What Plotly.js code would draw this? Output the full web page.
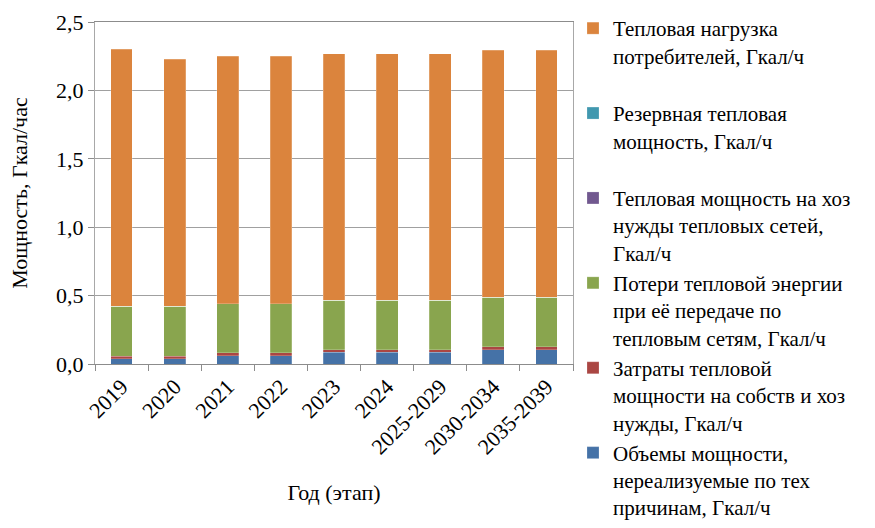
<!DOCTYPE html>
<html>
<head>
<meta charset="utf-8">
<script src="https://cdn.plot.ly/plotly-3.0.1.min.js"></script>
<style>
  html, body { margin: 0; padding: 0; background: #fff; }
  #chart { width: 875px; height: 528px; }
</style>
</head>
<body>
<div id="chart"></div>
<script>
// categories (year / stage)
var years = ['2019', '2020', '2021', '2022', '2023', '2024', '2025-2029', '2030-2034', '2035-2039'];

// series values, Гкал/ч
var unrealized = [0.040, 0.040, 0.060, 0.060, 0.085, 0.085, 0.085, 0.105, 0.105];
var ownNeeds   = [0.018, 0.018, 0.021, 0.021, 0.021, 0.021, 0.021, 0.022, 0.022];
var netNeeds   = [0, 0, 0, 0, 0, 0, 0, 0, 0];
var losses     = [0.365, 0.365, 0.361, 0.361, 0.360, 0.360, 0.360, 0.361, 0.361];
var reserve    = [0, 0, 0, 0, 0, 0, 0, 0, 0];
var load       = [1.877, 1.805, 1.807, 1.807, 1.803, 1.803, 1.803, 1.805, 1.805];

var names = [
  'Объемы мощности,<br>нереализуемые по тех<br>причинам, Гкал/ч',
  'Затраты тепловой<br>мощности на собств и хоз<br>нужды, Гкал/ч',
  'Потери тепловой энергии<br>при её передаче по<br>тепловым сетям, Гкал/ч',
  'Тепловая мощность на хоз<br>нужды тепловых сетей,<br>Гкал/ч',
  'Резервная тепловая<br>мощность, Гкал/ч<br> ',
  'Тепловая нагрузка<br>потребителей, Гкал/ч<br> '
];
var colors = ['#4572A7', '#AA4643', '#89A54E', '#71588F', '#4198AF', '#DB843D'];
var series = [unrealized, ownNeeds, losses, netNeeds, reserve, load];

function serif(size) {
  return {family: 'Liberation Serif', size: size, color: '#000'};
}

var data = series.map(function(vals, i) {
  return {
    x: years,
    y: vals,
    type: 'bar',
    name: names[i],
    marker: {color: colors[i], line: {color: 'rgba(255,255,255,0.35)', width: 0.6}},
    hoverinfo: 'x+y'
  };
});

var layout = {
  width: 875,
  height: 528,
  barmode: 'stack',
  bargap: 0.59,
  separators: ', ',
  font: serif(22),
  paper_bgcolor: '#fff',
  plot_bgcolor: '#fff',
  margin: {l: 95, r: 302, t: 17, b: 164},
  xaxis: {
    type: 'category',
    tickangle: -45,
    ticks: 'outside',
    tickson: 'boundaries',
    ticklen: 6,
    tickcolor: '#8c8c8c',
    showline: true,
    linecolor: '#8c8c8c',
    linewidth: 1.3,
    mirror: true,
    tickfont: serif(22),
    title: {text: 'Год (этап)', font: serif(22), standoff: 26}
  },
  yaxis: {
    range: [0, 2.5],
    dtick: 0.5,
    tickformat: '.1f',
    ticks: 'outside',
    ticklen: 6,
    tickcolor: '#8c8c8c',
    showline: true,
    linecolor: '#a8a8a8',
    linewidth: 1.3,
    mirror: true,
    gridcolor: '#a0a0a0',
    gridwidth: 1.3,
    zeroline: false,
    tickfont: serif(22),
    title: {text: 'Мощность, Гкал/час', font: serif(22), standoff: 22}
  },
  legend: {
    x: 1.0,
    xanchor: 'left',
    y: 1.03,
    yanchor: 'top',
    traceorder: 'reversed',
    valign: 'top',
    maxheight: 528,
    font: serif(21),
    itemgap: 6,
    bgcolor: 'rgba(0,0,0,0)'
  },
  showlegend: true
};

Plotly.newPlot('chart', data, layout, {displayModeBar: false});
</script>
</body>
</html>
